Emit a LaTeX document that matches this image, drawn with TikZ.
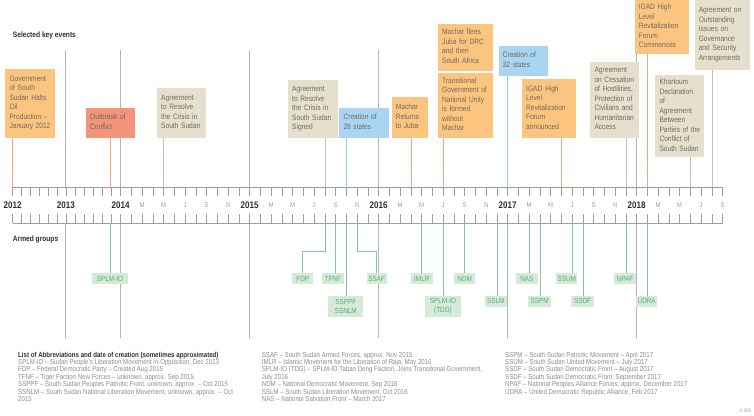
\documentclass[tikz,border=0pt]{standalone}
\usepackage{fontspec}
\setmainfont{Liberation Sans}[FakeStretch=0.85]

\definecolor{evorange}{HTML}{FCC57F}
\definecolor{evred}{HTML}{F3937A}
\definecolor{evbeige}{HTML}{E5E0CE}
\definecolor{evblue}{HTML}{A9D5F2}
\definecolor{stemorange}{HTML}{F5A383}
\definecolor{stembeige}{HTML}{C7BFAE}
\definecolor{stemblue}{HTML}{98CBEC}
\definecolor{evtext}{HTML}{736B60}
\definecolor{grfill}{HTML}{D5EBD8}
\definecolor{grtext}{HTML}{5AAA7B}
\definecolor{grline}{HTML}{83C79D}
\definecolor{yrline}{HTML}{B4B4B4}
\definecolor{axisgray}{HTML}{9C9C9C}
\definecolor{monthgray}{HTML}{A0A0A0}
\definecolor{listgray}{HTML}{8C8C8C}
\definecolor{darktext}{HTML}{2E2E2E}

\newcommand{\mx}[2]{120.7+((#1-2014)*12+#2-1)*10.75}
\newcommand{\evlines}[1]{\noindent\begin{tabular}{@{}l@{}}#1\end{tabular}}

\tikzset{
  ev/.style={anchor=south west, inner xsep=4.3pt, inner ysep=0pt, align=left,
    font=\fontsize{7.8}{9.5}\selectfont, text=evtext},
  gbox/.style={fill=grfill, text=grtext, inner sep=0pt, minimum height=11pt,
    align=center, font=\fontsize{7.5}{9.5}\selectfont},
  stem/.style={line width=0.8pt},
  gstem/.style={grline, line width=0.8pt},
  yearline/.style={yrline, line width=0.9pt},
  axtick/.style={axisgray, line width=0.5pt},
  yearlab/.style={font=\fontsize{9.5}{10}\selectfont\bfseries, text=darktext, inner sep=0pt},
  monthlab/.style={font=\fontsize{7}{8}\selectfont, text=monthgray, inner sep=0pt},
  headlab/.style={font=\fontsize{7.8}{9}\selectfont\bfseries, text=darktext, inner sep=0pt, anchor=west},
  abbr/.style={font=\fontsize{7.2}{7.4}\selectfont, text=listgray, inner sep=0pt, align=left, anchor=north west}
}

\begin{document}
\begin{tikzpicture}[x=1pt, y=-1pt]
\useasboundingbox (0,0) rectangle (754,415);

\node[headlab] (keyev) at (12.7,35) {Selected key events};
\node[headlab] (armed) at (12.7,239) {Armed groups};

\foreach \yx in {65.8,120.7,249.7,378.7,507.7,636.7}
  \draw[yearline] (\yx,50) -- (\yx,187) (\yx,223) -- (\yx,338);

\coordinate (low) at (0,223);
\draw[axisgray, line width=0.7pt] (12.7,187) -- (722.7,187);
\draw[axisgray, line width=0.7pt] (12.7,223) -- (722.7,223);
\foreach \i in {0,...,5} {
  \draw[axtick] ({12.7+\i*53.1/6},187) -- ++(0,8.5) ({12.7+\i*53.1/6},223) -- ++(0,-9.5);
  \draw[axtick] ({65.8+\i*54.9/6},187) -- ++(0,8.5) ({65.8+\i*54.9/6},223) -- ++(0,-9.5);
}
\foreach \i in {0,...,56}
  \draw[axtick] ({120.7+\i*10.75},187) -- ++(0,8.5) ({120.7+\i*10.75},223) -- ++(0,-9.5);

\foreach \yr/\yx in {2012/12.7,2013/65.8,2014/120.7,2015/249.7,2016/378.7,2017/507.7,2018/636.7}
  \node[yearlab] (y\yr) at (\yx,205) {\yr};
\foreach \yr in {2014,...,2017}
  \foreach \mm/\ml in {3/M,5/M,7/J,9/S,11/N}
    \node[monthlab] (m\yr-\mm) at ({\mx{\yr}{\mm}},205) {\ml};
\foreach \mm/\ml in {3/M,5/M,7/J,9/S}
  \node[monthlab] (m2018-\mm) at ({\mx{2018}{\mm}},205) {\ml};

\coordinate (jan12) at (12.7,187);
\coordinate (dec13) at (110,187);
\foreach \nm/\yr/\mm in {may14/2014/5,aug15/2015/8,sep15/2015/9,oct15/2015/10,nov15/2015/11,
    apr16/2016/4,may16/2016/5,jul16/2016/7,sep16/2016/9,dec16/2016/12,jan17/2017/1,
    mar17/2017/3,apr17/2017/4,jun17/2017/6,jul17/2017/7,aug17/2017/8,dec17/2017/12,
    feb18/2018/2,jun18/2018/6,aug18/2018/8}
  \coordinate (\nm) at ({\mx{\yr}{\mm}},187);

\node[ev, fill=evorange, text width=40.7pt, minimum height=68.4pt] (gov) at (5,137.7)
  {\evlines{Government\\of South\\Sudan Halts\\Oil\\Production –\\January 2012}};
\node[ev, fill=evred, text width=40.7pt, minimum height=30pt] (outbreak) at (85.7,137.7)
  {\evlines{Outbreak of\\Conflict}};
\node[ev, fill=evbeige, text width=40.4pt, minimum height=49.4pt] (agr14) at (156.7,137.7)
  {\evlines{Agreement\\to Resolve\\the Crisis in\\South Sudan}};
\node[ev, fill=evbeige, text width=41.4pt, minimum height=57.7pt] (agr15) at (287.7,137.7)
  {\evlines{Agreement\\to Resolve\\the Crisis in\\South Sudan\\Signed}};
\node[ev, fill=evblue, text width=40.7pt, minimum height=30pt] (st28) at (339,137.7)
  {\evlines{Creation of\\28 states}};
\node[ev, fill=evorange, text width=27.8pt, minimum height=40.4pt] (juba) at (391.3,137.7)
  {\evlines{Machar\\Returns\\to Juba}};
\node[ev, fill=evorange, text width=46.4pt, minimum height=46.7pt] (flees) at (437.7,70.7)
  {\evlines{Machar flees\\Juba for DRC\\and then\\South Africa}};
\node[ev, fill=evorange, text width=46.4pt, minimum height=65pt] (tgnu) at (437.7,137.7)
  {\evlines{Transitional\\Government of\\National Unity\\is formed\\without\\Machar}};
\node[ev, fill=evblue, text width=40.4pt, minimum height=30.3pt] (st32) at (498.3,76)
  {\evlines{Creation of\\32 states}};
\node[ev, fill=evorange, text width=45.7pt, minimum height=58.7pt] (igad17) at (521.7,137.7)
  {\evlines{IGAD High\\Level\\Revitalization\\Forum\\announced}};
\node[ev, fill=evbeige, text width=40.4pt, minimum height=76pt] (coh) at (590,137.7)
  {\evlines{Agreement\\on Cessation\\of Hostilities,\\Protection of\\Civilians and\\Humanitarian\\Access}};
\node[ev, fill=evorange, text width=46.1pt, minimum height=54.3pt] (igad18) at (634.3,54.3)
  {\evlines{IGAD High\\Level\\Revitalization\\Forum\\Commences}};
\node[ev, fill=evbeige, text width=40.4pt, minimum height=82.3pt] (khart) at (655,157.3)
  {\evlines{Khartoum\\Declaration\\of\\Agreement\\Between\\Parties of the\\Conflict of\\South Sudan}};
\node[ev, fill=evbeige, text width=46.4pt, minimum height=70pt] (outst) at (694.3,70)
  {\evlines{Agreement on\\Outstanding\\Issues on\\Governance\\and Security\\Arrangements}};

\draw[stem, stemorange] (gov.south -| jan12) -- (jan12);
\draw[stem, stemorange] (outbreak.south -| dec13) -- (dec13);
\draw[stem, stembeige] (agr14.south -| may14) -- (may14);
\draw[stem, stembeige] (agr15.south -| aug15) -- (aug15);
\draw[stem, stemblue] (st28.south -| oct15) -- (oct15);
\draw[stem, stemorange] (juba.south -| apr16) -- (apr16);
\draw[stem, stemorange] (tgnu.south -| jul16) -- (jul16);
\draw[stem, stemblue] (st32.south -| jan17) -- (jan17);
\draw[stem, stemorange] (igad17.south -| jun17) -- (jun17);
\draw[stem, stembeige] (coh.south -| dec17) -- (dec17);
\draw[stem, stemorange] (igad18.south -| feb18) -- (feb18);
\draw[stem, stembeige] (khart.south -| jun18) -- (jun18);
\draw[stem, stembeige] (outst.south -| aug18) -- (aug18);

\node[gbox, minimum width=35.4pt] (splmio) at (110,278.8) {SPLM-IO};
\node[gbox, minimum width=21pt] (fdp) at (302.8,278.8) {FDP};
\node[gbox, minimum width=22.3pt] (tfnf) at (332.8,278.8) {TFNF};
\node[gbox, minimum width=35pt, minimum height=20.7pt] (ssppf) at (345.8,306.3) {SSPPF\\SSNLM};
\node[gbox, minimum width=20pt] (ssaf) at (376.7,278.8) {SSAF};
\node[gbox, minimum width=21.7pt] (imlr) at (421.8,278.8) {IMLR};
\node[gbox, minimum width=21.3pt] (ndm) at (464.7,278.8) {NDM};
\node[gbox, minimum width=35.4pt, minimum height=20.7pt] (tdg) at (443,306.3) {SPLM-IO\\(TDG)};
\node[gbox, minimum width=22pt] (sslm) at (495.7,301.3) {SSLM};
\node[gbox, minimum width=21.7pt] (nas) at (526.8,278.8) {NAS};
\node[gbox, minimum width=22.7pt] (sspm) at (539.7,301.3) {SSPM};
\node[gbox, minimum width=21.3pt] (ssum) at (566.7,278.8) {SSUM};
\node[gbox, minimum width=23pt] (ssdf) at (582.5,301.3) {SSDF};
\node[gbox, minimum width=21.4pt] (npaf) at (625,278.8) {NPAF};
\node[gbox, minimum width=21.3pt] (udra) at (646.7,301.3) {UDRA};

\draw[gstem] (dec13 |- low) -- (splmio.north);
\draw[gstem] (aug15 |- low) -- ++(0,28) -| (fdp.north);
\draw[gstem] (sep15 |- low) -- (tfnf.north -| sep15);
\draw[gstem] (oct15 |- low) -- (ssppf.north -| oct15);
\draw[gstem] (nov15 |- low) -- ++(0,28) -| (ssaf.north);
\draw[gstem] (may16 |- low) -- (imlr.north -| may16);
\draw[gstem] (sep16 |- low) -- (ndm.north -| sep16);
\draw[gstem] (jul16 |- low) -- (tdg.north -| jul16);
\draw[gstem] (dec16 |- low) -- (sslm.north -| dec16);
\draw[gstem] (mar17 |- low) -- (nas.north -| mar17);
\draw[gstem] (apr17 |- low) -- (sspm.north -| apr17);
\draw[gstem] (jul17 |- low) -- (ssum.north -| jul17);
\draw[gstem] (aug17 |- low) -- (ssdf.north -| aug17);
\draw[gstem] (dec17 |- low) -- (npaf.north -| dec17);
\draw[gstem] (feb18 |- low) -- (udra.north -| feb18);

\node[abbr] (abbr1) at (18,351.6) {\textcolor{darktext}{\textbf{List of Abbreviations and date of creation (sometimes approximated)}}\\
  SPLM-IO – Sudan People's Liberation Movement in-Opposition, Dec 2013\\
  FDP – Federal Democratic Party – Created Aug 2015\\
  TFNF – Tiger Faction New Forces – unknown, approx. Sep 2015\\
  SSPPF – South Sudan Peoples Patriotic Front, unknown, approx. – Oct 2015\\
  SSNLM – South Sudan National Liberation Movement, unknown, approx. – Oct\\
  2015};
\node[abbr] (abbr2) at (261.7,351.6) {SSAF – South Sudan Armed Forces, approx. Nov 2015\\
  IMLR – Islamic Movement for the Liberation of Raja, May 2016\\
  SPLM-IO (TDG) – SPLM-IO Taban Deng Faction, Joins Transitional Government,\\
  July 2016\\
  NDM – National Democratic Movement, Sep 2016\\
  SSLM – South Sudan Liberation Movement, Oct 2016\\
  NAS – National Salvation Front – March 2017};
\node[abbr] (abbr3) at (505,351.6) {SSPM – South Sudan Patriotic Movement – April 2017\\
  SSUM – South Sudan United Movement – July 2017\\
  SSDF – South Sudan Democratic Front – August 2017\\
  SSDF – South Sudan Democratic Front, September 2017\\
  NPAF – National Peoples Alliance Forces, approx. December 2017\\
  UDRA – United Democratic Republic Alliance, Feb 2017};
\node[font=\fontsize{5}{6}\selectfont, text=listgray, inner sep=0pt] (iss) at (745,410.5) {© ISS};
\end{tikzpicture}
\end{document}
